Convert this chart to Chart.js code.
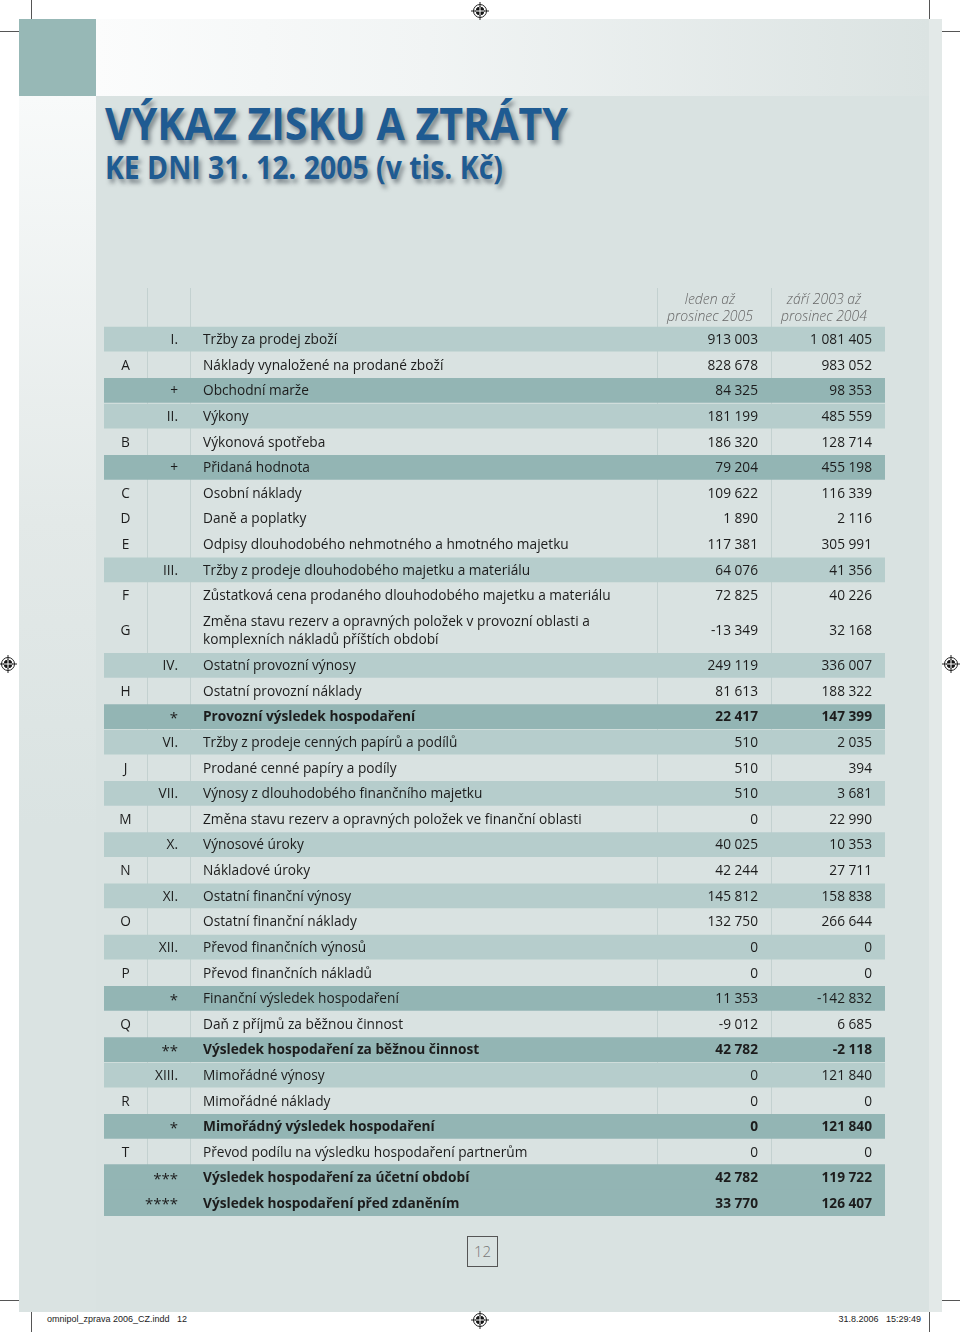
<!DOCTYPE html>
<html lang="cs">
<head>
<meta charset="utf-8">
<title>Výkaz zisku a ztráty</title>
<script src="https://cdn.jsdelivr.net/npm/chart.js@4.4.0/dist/chart.umd.min.js"></script>
<style>
  html, body { margin: 0; padding: 0; background: #fff; }
  body { width: 960px; height: 1332px; position: relative; overflow: hidden; font-family: "Open Sans", "Noto Sans", sans-serif; }
  .abs { position: absolute; }
  .teal { left: 19px; top: 19px; width: 77px; height: 77px; background: #97b8b6; }
  .topband { left: 96px; top: 19px; width: 833px; height: 77px; background: linear-gradient(to right, #fbfcfc, #f1f4f4 40%, #dbe3e2); }
  .leftband { left: 19px; top: 96px; width: 77px; height: 1216px; background: linear-gradient(to bottom, #f8fafa, #e3e9e8 35%, #dae3e2 60%); }
  .panel { left: 96px; top: 96px; width: 833px; height: 1216px; background: #d9e2e1; }
  .rightband { left: 929px; top: 19px; width: 13px; height: 1293px; background: #e3e9e8; }
  .title { left: 105px; top: 98px; color: #1f5b92; font-family: "Open Sans", "Noto Sans", sans-serif; font-weight: 700; white-space: nowrap; text-shadow: 3px 4px 5px rgba(40,50,60,0.5); }
  .t1 { font-size: 45px; line-height: 50px; }
  .t2 { font-size: 32px; line-height: 37px; }
  .crop { background: #555; }
  .foot { font-family: "Liberation Sans", Arial, sans-serif; font-size: 9px; color: #222; top: 1314px; white-space: pre; }
  .pagebox { left: 467px; top: 1236px; width: 29px; height: 29px; border: 1px solid #555; color: #777; font-size: 15px; line-height: 29px; text-align: center; font-weight: 300; }
  #tbl { position: absolute; left: 104px; top: 288px; }
</style>
</head>
<body>
<div class="abs teal"></div>
<div class="abs topband"></div>
<div class="abs leftband"></div>
<div class="abs panel"></div>
<div class="abs rightband"></div>

<div class="abs title" id="title">
  <div class="t1">VÝKAZ ZISKU A ZTRÁTY</div>
  <div class="t2">KE DNI 31. 12. 2005 (v tis. Kč)</div>
</div>

<!-- crop marks -->
<div class="abs crop" style="left:31px;top:0;width:1px;height:19px"></div>
<div class="abs crop" style="left:0;top:31px;width:19px;height:1px"></div>
<div class="abs crop" style="left:929px;top:0;width:1px;height:19px"></div>
<div class="abs crop" style="left:942px;top:31px;width:18px;height:1px"></div>
<div class="abs crop" style="left:0;top:1300px;width:19px;height:1px"></div>
<div class="abs crop" style="left:31px;top:1312px;width:1px;height:20px"></div>
<div class="abs crop" style="left:942px;top:1300px;width:18px;height:1px"></div>
<div class="abs crop" style="left:929px;top:1312px;width:1px;height:20px"></div>

<svg class="abs" style="left:0;top:0" width="960" height="1332" id="marks"></svg>

<canvas id="tbl" width="781" height="928"></canvas>

<div class="abs pagebox">12</div>
<div class="abs foot" style="left:47px">omnipol_zprava 2006_CZ.indd   12</div>
<div class="abs foot" style="right:39px">31.8.2006   15:29:49</div>

<script>
// Table data
const columnLabels = [['leden až', 'prosinec 2005'], ['září 2003 až', 'prosinec 2004']];

const rowCodes = ['I.', 'A', '+', 'II.', 'B', '+', 'C', 'D', 'E', 'III.', 'F', 'G', 'IV.', 'H', '*',
    'VI.', 'J', 'VII.', 'M', 'X.', 'N', 'XI.', 'O', 'XII.', 'P', '*', 'Q', '**', 'XIII.', 'R', '*',
    'T', '***', '****'];

const rowLabels = [
    'Tržby za prodej zboží',
    'Náklady vynaložené na prodané zboží',
    'Obchodní marže',
    'Výkony',
    'Výkonová spotřeba',
    'Přidaná hodnota',
    'Osobní náklady',
    'Daně a poplatky',
    'Odpisy dlouhodobého nehmotného a hmotného majetku',
    'Tržby z prodeje dlouhodobého majetku a materiálu',
    'Zůstatková cena prodaného dlouhodobého majetku a materiálu',
    'Změna stavu rezerv a opravných položek v provozní oblasti a\nkomplexních nákladů příštích období',
    'Ostatní provozní výnosy',
    'Ostatní provozní náklady',
    'Provozní výsledek hospodaření',
    'Tržby z prodeje cenných papírů a podílů',
    'Prodané cenné papíry a podíly',
    'Výnosy z dlouhodobého finančního majetku',
    'Změna stavu rezerv a opravných položek ve finanční oblasti',
    'Výnosové úroky',
    'Nákladové úroky',
    'Ostatní finanční výnosy',
    'Ostatní finanční náklady',
    'Převod finančních výnosů',
    'Převod finančních nákladů',
    'Finanční výsledek hospodaření',
    'Daň z příjmů za běžnou činnost',
    'Výsledek hospodaření za běžnou činnost',
    'Mimořádné výnosy',
    'Mimořádné náklady',
    'Mimořádný výsledek hospodaření',
    'Převod podílu na výsledku hospodaření partnerům',
    'Výsledek hospodaření za účetní období',
    'Výsledek hospodaření před zdaněním'
];

const values2005 = [913003, 828678, 84325, 181199, 186320, 79204, 109622, 1890, 117381, 64076,
    72825, -13349, 249119, 81613, 22417, 510, 510, 510, 0, 40025, 42244, 145812, 132750, 0, 0,
    11353, -9012, 42782, 0, 0, 0, 0, 42782, 33770];

const values2004 = [1081405, 983052, 98353, 485559, 128714, 455198, 116339, 2116, 305991, 41356,
    40226, 32168, 336007, 188322, 147399, 2035, 394, 3681, 22990, 10353, 27711, 158838, 266644, 0, 0,
    -142832, 6685, -2118, 121840, 0, 121840, 0, 119722, 126407];

// rows printed in bold
const boldRows = [14, 27, 30, 32, 33];

// Layout
const unitPx = 25.6;
const headerUnits = 1.5;
const tallUnits = 1.73;
const colEdges = [0, 43, 86, 553, 667, 781];   // px inside the table
const tableWidth = 781;
const fontFamily = '"Open Sans", "Noto Sans", sans-serif';
const textSize = '13.7px ';

// row positions in row units
const rowTops = [];
const rowSizes = [];
let acc = 0;
rowLabels.forEach(label => {
    const size = label.includes('\n') ? tallUnits : 1;
    rowTops.push(acc);
    rowSizes.push(size);
    acc += size;
});
const rowCenters = rowTops.map((t, i) => t + rowSizes[i] / 2);

const isLetter = code => /^[A-Z]$/.test(code);
const isRoman = code => /\.$/.test(code);
const isSum = code => /^[+*]/.test(code);

function fmt(v) {
    const s = String(Math.abs(v)).replace(/\B(?=(\d{3})+(?!\d))/g, ' ');
    return (v < 0 ? '-' : '') + s;
}

function bandData(test) {
    return rowCodes
        .map((code, i) => ({ code, i }))
        .filter(r => test(r.code, r.i))
        .map(r => ({ x: [0, tableWidth], y: rowCenters[r.i] }));
}

const lastTwo = [32, 33];

const tablePlugin = {
    id: 'tableText',
    beforeDatasetsDraw(chart) {
        const { ctx, scales: { x, y } } = chart;
        ctx.save();
        ctx.strokeStyle = '#c3d1d0';
        ctx.lineWidth = 1;
        [1, 2, 3, 4].forEach(k => {
            const px = Math.round(x.getPixelForValue(colEdges[k])) + 0.5;
            ctx.beginPath();
            ctx.moveTo(px, y.top);
            ctx.lineTo(px, y.bottom);
            ctx.stroke();
        });
        ctx.restore();
    },
    afterDatasetsDraw(chart) {
        const { ctx, scales: { x, y } } = chart;
        ctx.save();
        ctx.textBaseline = 'middle';

        // header
        const top0 = y.getPixelForValue(0);
        ctx.fillStyle = '#666';
        ctx.font = 'italic 300 14px ' + fontFamily;
        ctx.textAlign = 'center';
        columnLabels.forEach((lines, c) => {
            const cx = (x.getPixelForValue(colEdges[3 + c]) + x.getPixelForValue(colEdges[4 + c])) / 2 - 4;
            ctx.fillText(lines[0], cx, top0 - 26);
            ctx.fillText(lines[1], cx, top0 - 9);
        });

        rowCodes.forEach((code, i) => {
            const yc = y.getPixelForValue(rowCenters[i]) + 1;
            const bold = boldRows.includes(i);
            ctx.fillStyle = '#1c1c1c';

            if (isLetter(code)) {
                ctx.font = '400 ' + textSize + fontFamily;
                ctx.textAlign = 'center';
                ctx.fillText(code, x.getPixelForValue((colEdges[0] + colEdges[1]) / 2), yc);
            } else if (code.startsWith('*')) {
                ctx.font = '400 15px ' + fontFamily;
                ctx.textAlign = 'right';
                ctx.fillText(code, x.getPixelForValue(colEdges[2] - 12), yc + 1);
            } else {
                ctx.font = '400 ' + textSize + fontFamily;
                ctx.textAlign = 'right';
                ctx.fillText(code, x.getPixelForValue(colEdges[2] - 12), yc);
            }

            ctx.font = (bold ? '700 ' : '400 ') + textSize + fontFamily;
            ctx.textAlign = 'left';
            const lines = rowLabels[i].split('\n');
            lines.forEach((line, k) => {
                const off = (k - (lines.length - 1) / 2) * 18;
                ctx.fillText(line, x.getPixelForValue(colEdges[2] + 13), yc + off);
            });

            ctx.textAlign = 'right';
            ctx.fillText(fmt(values2005[i]), x.getPixelForValue(colEdges[4] - 13), yc);
            ctx.fillText(fmt(values2004[i]), x.getPixelForValue(colEdges[5] - 13), yc);
        });
        ctx.restore();
    }
};

new Chart(document.getElementById('tbl'), {
    type: 'bar',
    data: {
        datasets: [
            {
                label: 'roman',
                data: bandData(code => isRoman(code)),
                backgroundColor: '#b6cdcc',
                barThickness: unitPx - 1.5,
                grouped: false
            },
            {
                label: 'sum',
                data: bandData((code, i) => isSum(code) && !lastTwo.includes(i)),
                backgroundColor: '#93b5b4',
                barThickness: unitPx - 1.5,
                grouped: false
            },
            {
                label: 'final',
                data: bandData((code, i) => lastTwo.includes(i)),
                backgroundColor: '#93b5b4',
                barThickness: unitPx + 0.5,
                grouped: false
            }
        ]
    },
    options: {
        indexAxis: 'y',
        responsive: false,
        animation: false,
        layout: { padding: 0 },
        scales: {
            x: { type: 'linear', min: 0, max: tableWidth, display: false, offset: false },
            y: { type: 'linear', reverse: true, min: -headerUnits, max: acc, display: false, offset: false }
        },
        plugins: { legend: { display: false }, tooltip: { enabled: false } }
    },
    plugins: [tablePlugin]
});

// registration marks
const svg = document.getElementById('marks');
[[480, 11], [8, 664], [951, 664], [480, 1320]].forEach(([cx, cy]) => {
    svg.insertAdjacentHTML('beforeend',
        `<g stroke="#222" stroke-width="1" fill="none">
            <circle cx="${cx}" cy="${cy}" r="6.5"/>
            <circle cx="${cx}" cy="${cy}" r="4" fill="#111"/>
            <line x1="${cx - 9}" y1="${cy}" x2="${cx + 9}" y2="${cy}"/>
            <line x1="${cx}" y1="${cy - 9}" x2="${cx}" y2="${cy + 9}"/>
            <line x1="${cx - 4}" y1="${cy}" x2="${cx + 4}" y2="${cy}" stroke="#fff"/>
            <line x1="${cx}" y1="${cy - 4}" x2="${cx}" y2="${cy + 4}" stroke="#fff"/>
        </g>`);
});

// fit title lines to printed widths
const t1 = document.querySelector('.t1');
const t2 = document.querySelector('.t2');
[[t1, 463], [t2, 398]].forEach(([el, w]) => {
    el.style.display = 'inline-block';
    const r = w / el.getBoundingClientRect().width;
    el.style.transform = 'scaleX(' + r.toFixed(3) + ')';
    el.style.transformOrigin = 'left top';
    el.style.display = 'block';
});
</script>
</body>
</html>
